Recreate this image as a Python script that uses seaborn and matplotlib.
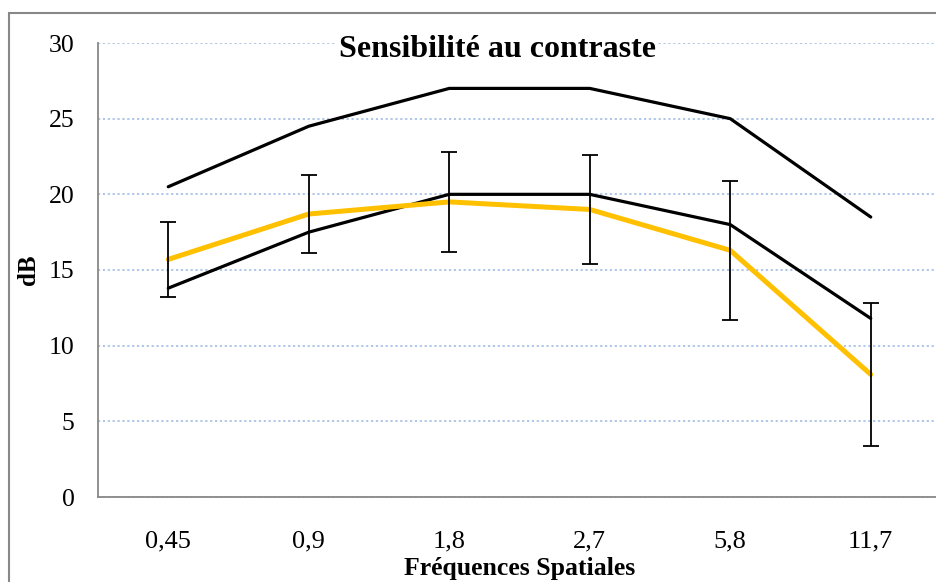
import numpy as np
import pandas as pd
import matplotlib
matplotlib.use("Agg")
import matplotlib.pyplot as plt
from matplotlib.patches import Rectangle
import seaborn as sns

# données
frequences = ["0,45", "0,9", "1,8", "2,7", "5,8", "11,7"]
limite_haute = [20.5, 24.5, 27.0, 27.0, 25.0, 18.5]
limite_basse = [13.8, 17.5, 20.0, 20.0, 18.0, 11.8]
moyenne = [15.7, 18.7, 19.5, 19.0, 16.3, 8.1]
ecart = [2.5, 2.6, 3.3, 3.6, 4.6, 4.7]

sns.set_style("white")
plt.rcParams["font.family"] = ["Liberation Serif", "DejaVu Serif"]
# texte en noir (seaborn met du gris foncé par défaut)
plt.rcParams["text.color"] = "black"
plt.rcParams["axes.labelcolor"] = "black"
plt.rcParams["xtick.labelcolor"] = "black"
plt.rcParams["ytick.labelcolor"] = "black"

x = np.arange(len(frequences))
df = pd.DataFrame({"x": x, "haute": limite_haute, "basse": limite_basse, "moyenne": moyenne})

fig = plt.figure(figsize=(9.37, 5.82), dpi=100)
ax = fig.add_axes([98 / 937, 85 / 582, 843 / 937, 454 / 582])

# cadre du graphique (coupé à droite et en bas comme l'original)
fig.patches.append(Rectangle((9 / 937, -0.05), 1.05, 1 - 13 / 582 + 0.05,
                             transform=fig.transFigure, fill=False,
                             edgecolor="#888888", linewidth=1.5))

sns.lineplot(data=df, x="x", y="haute", ax=ax, color="black", linewidth=2.3)
sns.lineplot(data=df, x="x", y="basse", ax=ax, color="black", linewidth=2.3)
sns.lineplot(data=df, x="x", y="moyenne", ax=ax, color="#FFC000", linewidth=3.6, zorder=3)
ax.errorbar(x, moyenne, yerr=ecart, fmt="none", ecolor="black",
            elinewidth=1.3, capsize=6, capthick=1.3, zorder=4)

ax.set_xlim(-0.5, len(frequences) - 0.5)
ax.set_ylim(0, 30)
ax.set_yticks(range(0, 31, 5))
ax.set_xticks(x)
ax.set_xticklabels(frequences)
ax.set_xticks(np.arange(-0.5, len(frequences)), minor=True)
ax.tick_params(axis="x", which="major", length=0, labelsize=19, pad=24, labelcolor="black")
ax.tick_params(axis="x", which="minor", length=7, color="#888888", width=1.2, direction="out")
ax.tick_params(axis="y", length=7, color="#888888", width=1.2, labelsize=18.5, pad=10,
               labelcolor="black")

ax.grid(axis="y", color="#A9C1E6", linestyle=(0, (1.2, 1.5)), linewidth=1.3)
ax.set_axisbelow(True)
for cote in ["top", "right"]:
    ax.spines[cote].set_visible(False)
for cote in ["left", "bottom"]:
    ax.spines[cote].set_color("#888888")
    ax.spines[cote].set_linewidth(1.3)

ax.set_xlabel("Fréquences Spatiales", fontsize=18.5, fontweight="bold", color="black")
ax.xaxis.set_label_coords(0.5, -0.133)
ax.set_ylabel("dB", fontsize=18, fontweight="bold", color="black")
ax.yaxis.set_label_coords(-0.069, 0.5)
ax.text(2.34, 29.55, "Sensibilité au contraste", ha="center", va="center",
        fontsize=23, fontweight="bold", color="black",
        bbox=dict(facecolor="white", edgecolor="none", pad=2))

fig.savefig("out.png", dpi=100)
